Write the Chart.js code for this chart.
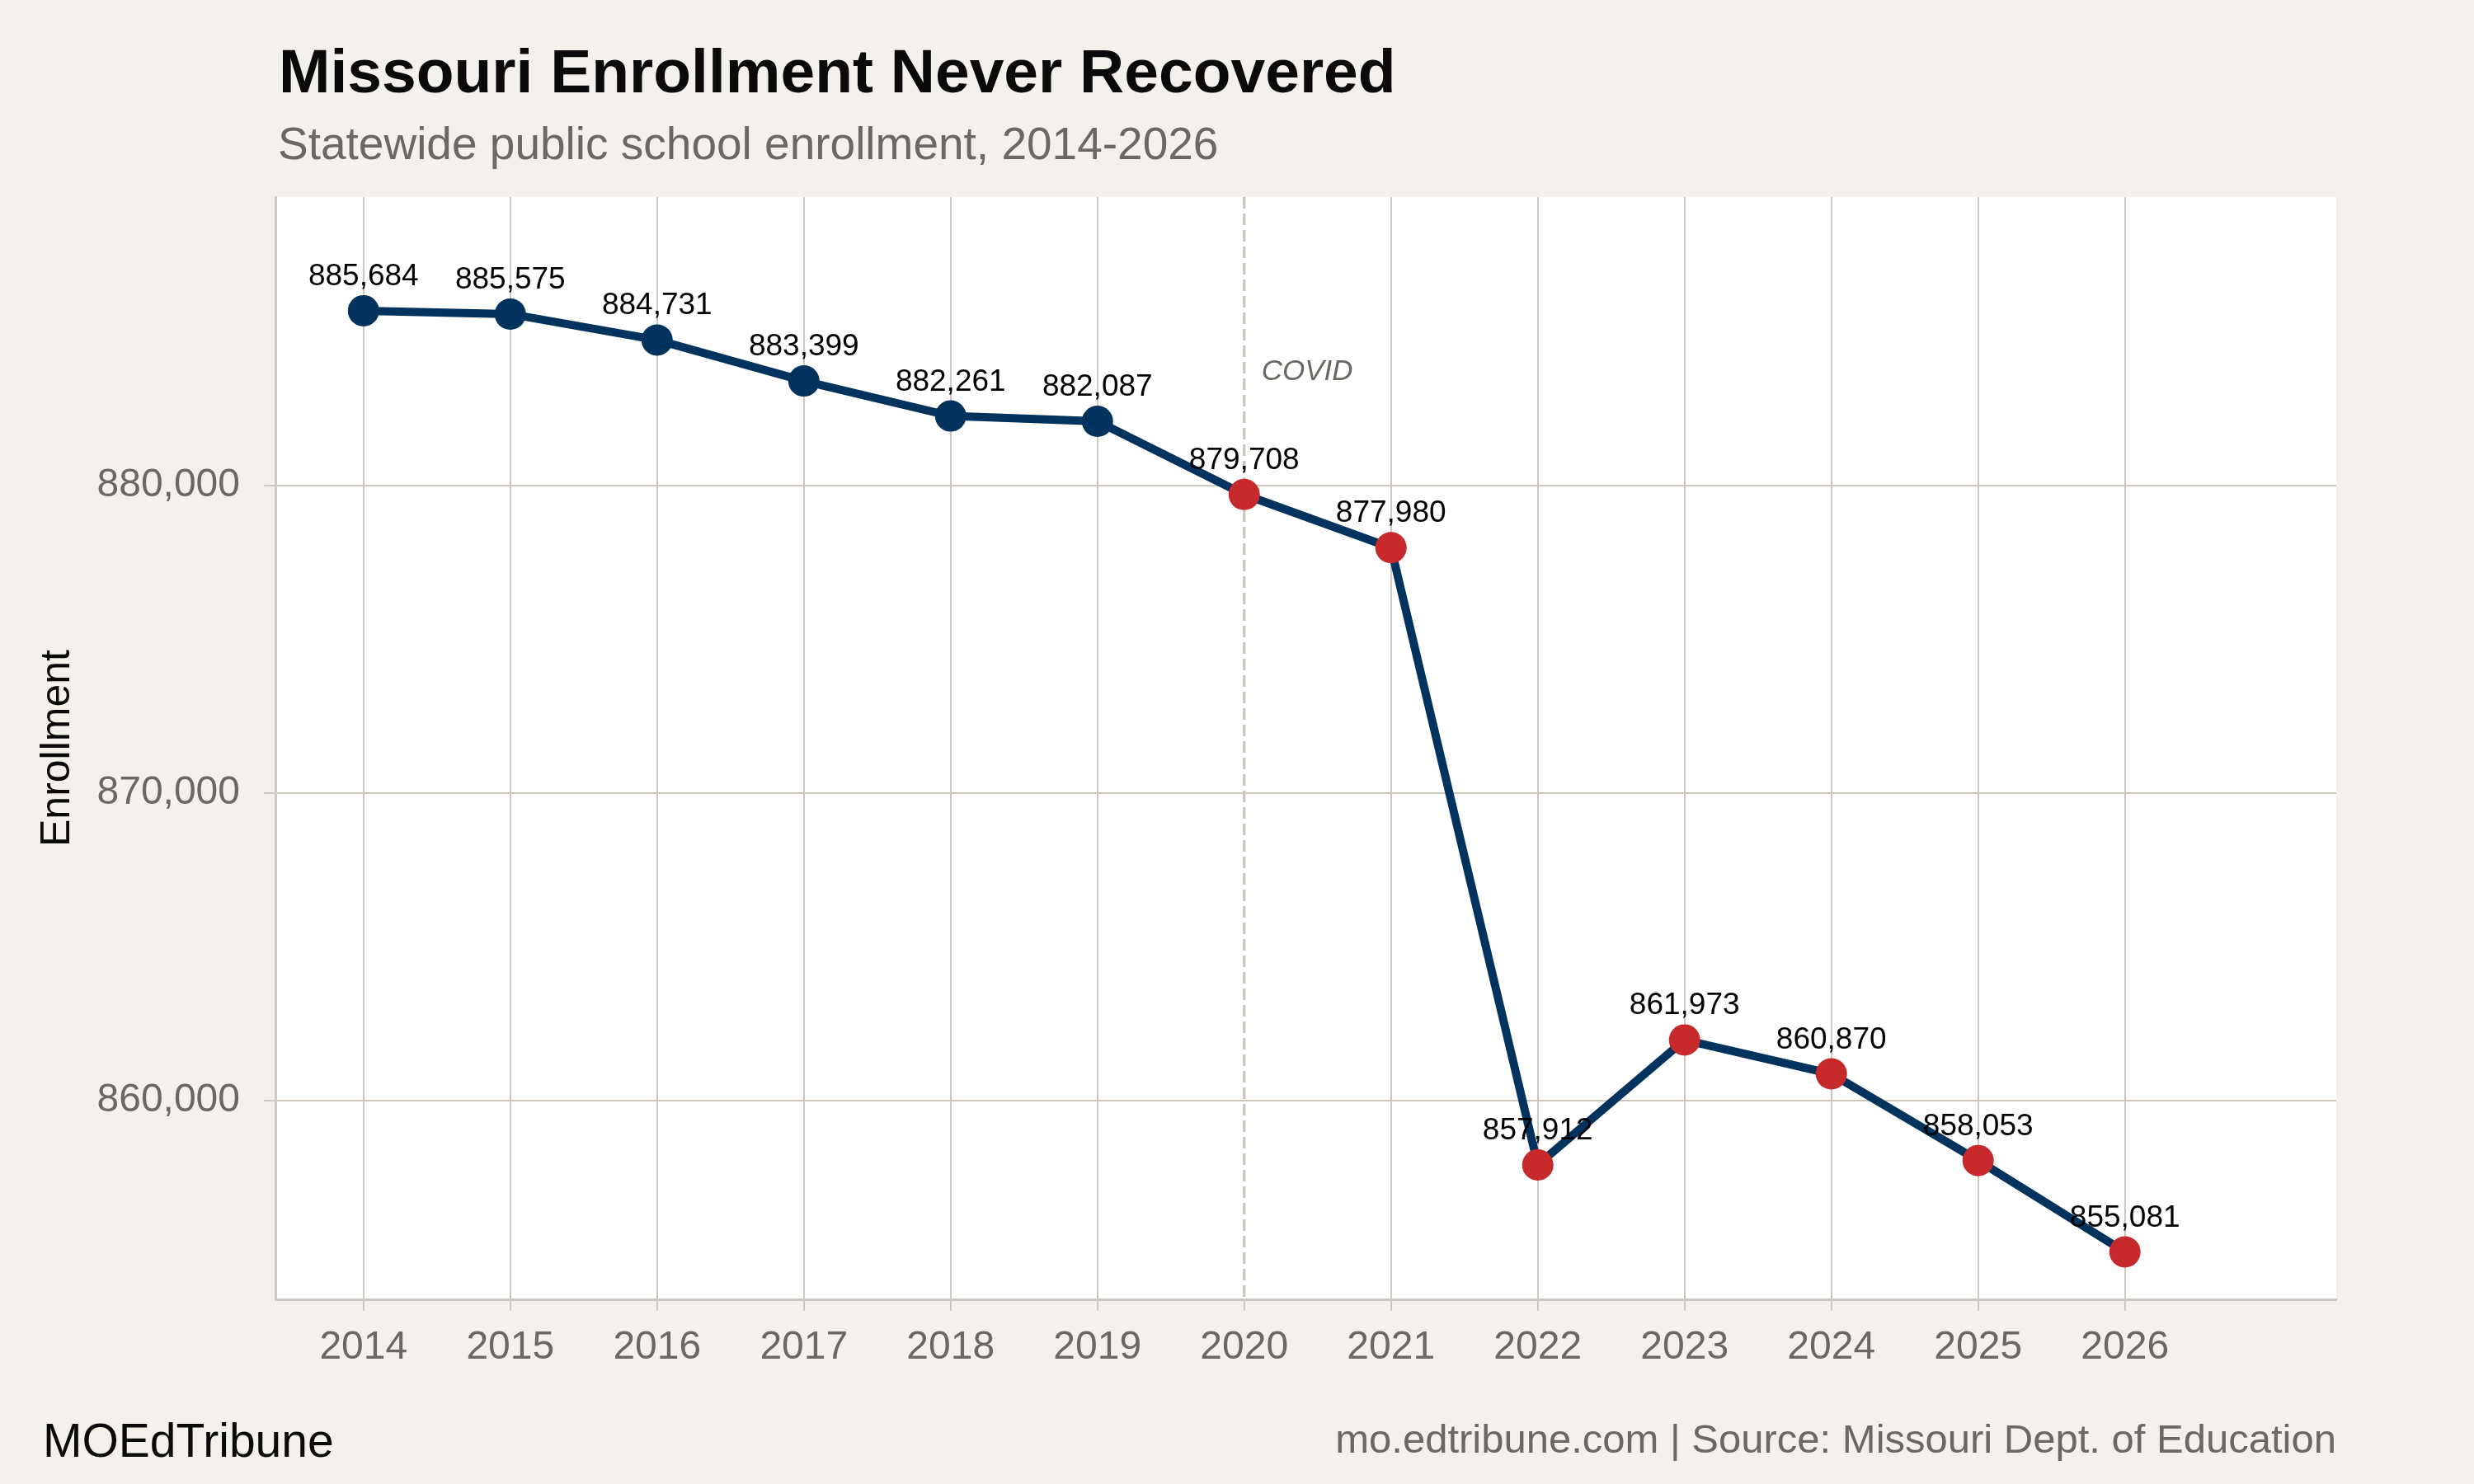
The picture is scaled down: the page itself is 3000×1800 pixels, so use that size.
<!DOCTYPE html>
<html>
<head>
<meta charset="utf-8">
<title>Missouri Enrollment Never Recovered</title>
<script src="https://cdn.jsdelivr.net/npm/chart.js@4.4.1/dist/chart.umd.min.js"></script>
<style>
  html, body { margin: 0; padding: 0; background: #f4f1ec; }
  #wrap { width: 3000px; height: 1800px; }
</style>
</head>
<body>
<div id="wrap"><canvas id="enrollmentChart" width="3000" height="1800"></canvas></div>
<script>
const years = [2014, 2015, 2016, 2017, 2018, 2019, 2020, 2021, 2022, 2023, 2024, 2025, 2026];
const enrollment = [885684, 885575, 884731, 883399, 882261, 882087, 879708, 877980, 857912, 861973, 860870, 858053, 855081];
const yTicks = [860000, 870000, 880000];
const covidYear = 2020;
const covidLabelY = 883700;

const navy = "#02335f";
const red = "#c62a2a";
const gridColor = "#cdc7be";
const grayText = "#6b6761";
const font = "'Liberation Sans', Arial, Helvetica, sans-serif";

Chart.defaults.font.family = font;

const fmt = (v) => v.toLocaleString("en-US");

// white panel + cream page, covid marker, point labels, titles and footer
const decor = {
  id: "decor",
  beforeDraw(chart) {
    const { ctx, chartArea: a } = chart;
    ctx.save();
    ctx.fillStyle = "#f4f1ec";
    ctx.fillRect(0, 0, chart.width, chart.height);
    ctx.fillStyle = "#ffffff";
    ctx.fillRect(a.left, a.top, a.right - a.left, a.bottom - a.top);
    ctx.restore();
  },
  beforeDatasetsDraw(chart) {
    const { ctx, chartArea: a, scales } = chart;
    const x = scales.x.getPixelForValue(covidYear);
    ctx.save();
    ctx.strokeStyle = gridColor;
    ctx.lineWidth = 3.5;
    ctx.setLineDash([14, 6]);
    ctx.beginPath();
    ctx.moveTo(x, a.top);
    ctx.lineTo(x, a.bottom);
    ctx.stroke();
    ctx.setLineDash([]);
    ctx.fillStyle = grayText;
    ctx.font = "italic 35px " + font;
    ctx.textAlign = "left";
    ctx.textBaseline = "middle";
    ctx.fillText("COVID", x + 21, scales.y.getPixelForValue(covidLabelY));
    ctx.restore();
  },
  afterDatasetsDraw(chart) {
    const { ctx } = chart;
    const pts = chart.getDatasetMeta(0).data;
    ctx.save();
    ctx.fillStyle = "#000000";
    ctx.font = "37px " + font;
    ctx.textAlign = "center";
    ctx.textBaseline = "alphabetic";
    pts.forEach((p, i) => ctx.fillText(fmt(enrollment[i]), p.x, p.y - 31));
    ctx.restore();
  },
  afterDraw(chart) {
    const { ctx, chartArea: a } = chart;
    ctx.save();
    ctx.textAlign = "left";
    ctx.textBaseline = "alphabetic";
    ctx.fillStyle = "#0a0a0a";
    ctx.font = "bold 75px " + font;
    ctx.fillText("Missouri Enrollment Never Recovered", a.left + 4, 112);
    ctx.fillStyle = grayText;
    ctx.font = "55px " + font;
    ctx.fillText("Statewide public school enrollment, 2014-2026", a.left + 3, 193);
    ctx.fillStyle = "#0a0a0a";
    ctx.font = "57px " + font;
    ctx.fillText("MOEdTribune", 52, 1767);
    ctx.fillStyle = grayText;
    ctx.font = "49px " + font;
    ctx.textAlign = "right";
    ctx.fillText("mo.edtribune.com | Source: Missouri Dept. of Education", a.right, 1762);
    ctx.restore();
  },
};

new Chart(document.getElementById("enrollmentChart"), {
  type: "line",
  data: {
    datasets: [
      {
        label: "Enrollment",
        data: years.map((y, i) => ({ x: y, y: enrollment[i] })),
        borderColor: navy,
        borderWidth: 10,
        tension: 0,
        pointRadius: 19,
        pointHoverRadius: 19,
        pointBorderWidth: 0,
        pointBackgroundColor: years.map((y) => (y < covidYear ? navy : red)),
        clip: false,
      },
    ],
  },
  options: {
    responsive: false,
    animation: false,
    events: [],
    layout: { padding: { top: 239, right: 167, bottom: 0, left: 0 } },
    plugins: {
      legend: { display: false },
      tooltip: { enabled: false },
    },
    scales: {
      x: {
        type: "linear",
        min: 2013.4,
        max: 2027.44,
        afterFit: (s) => { s.height = 224; },
        afterBuildTicks: (s) => { s.ticks = years.map((v) => ({ value: v })); },
        ticks: {
          callback: (v) => String(v),
          color: grayText,
          font: { size: 48 },
          padding: 16,
          maxRotation: 0,
        },
        grid: {
          color: (c) => (c.tick && c.tick.value === covidYear ? "rgba(0,0,0,0)" : gridColor),
          tickColor: gridColor,
          lineWidth: 2,
          tickLength: 14,
        },
        border: { display: true, color: gridColor, width: 3 },
      },
      y: {
        min: 853540,
        max: 889380,
        afterFit: (s) => { s.width = 334; },
        afterBuildTicks: (s) => { s.ticks = yTicks.map((v) => ({ value: v })); },
        ticks: {
          callback: (v) => fmt(v),
          color: grayText,
          font: { size: 48 },
          padding: 29,
        },
        grid: { color: gridColor, lineWidth: 2, tickLength: 14 },
        border: { display: true, color: gridColor, width: 3 },
        title: {
          display: true,
          text: "Enrollment",
          color: "#0a0a0a",
          font: { size: 50 },
          padding: { top: 40, bottom: 0 },
        },
      },
    },
  },
  plugins: [decor],
});
</script>
</body>
</html>
